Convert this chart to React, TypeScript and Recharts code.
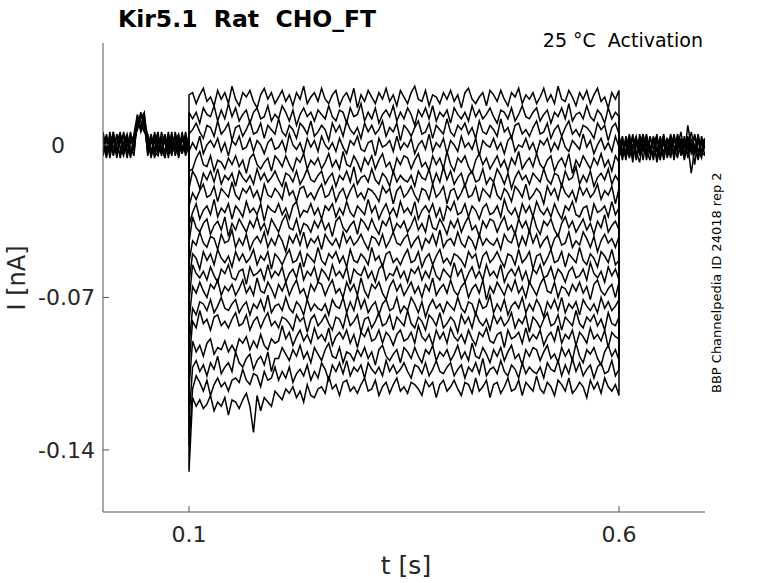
import React from 'react';
import { LineChart, Line, XAxis, YAxis } from 'recharts';

// current values are written in pA, plotted in nA
const STEP_START = 0.1;
const STEP_DT = 0.5 / 120; // 121 samples across the 0.1–0.6 s step
const BASE_DT = 0.004; // 26 samples across each baseline stretch
const PRE_START = 0;
const POST_START = 0.6;

const X_TICKS = [0.1, 0.6];
const Y_TICKS = [0, -0.07, -0.14];

// baseline value of each sweep right before / after the step
const STEP_ON = [1, -2, 0, 2, -1, 3, -3, 1, 0, -2, 2, -1, 1, -3, 0, 2, -2, 1, -1];
const STEP_OFF = [-2, 0, -3, 1, -1, -4, 2, -2, 0, -3, 1, -2, -1, 2, -4, 0, -1, -3, 1];

// the 19 sweeps during the step (first sample is the onset transient)
const SWEEPS: number[][] = [
  [23,
    24, 19, 23, 26, 20, 22, 18, 25, 21, 24, 19, 27,
    21, 18, 24, 22, 25, 20, 17, 23, 26, 21, 24, 19,
    22, 25, 20, 23, 18, 24, 21, 27, 19, 22, 24, 20,
    26, 21, 19, 23, 25, 18, 22, 24, 20, 26, 17, 23,
    20, 25, 22, 19, 24, 21, 26, 20, 23, 18, 25, 22,
    19, 24, 27, 21, 20, 25, 18, 23, 22, 19, 24, 21,
    25, 20, 23, 17, 24, 26, 21, 19, 22, 24, 18, 25,
    23, 20, 25, 21, 18, 24, 22, 26, 19, 23, 21, 24,
    19, 22, 26, 20, 23, 19, 27, 21, 20, 25, 22, 18,
    24, 21, 25, 19, 23, 26, 20, 22, 17, 24, 21, 25],
  [15,
    12, 15, 10, 17, 14, 13, 18, 11, 16, 12, 19, 13,
    17, 11, 14, 16, 10, 15, 17, 12, 13, 18, 11, 14,
    12, 18, 15, 11, 16, 9, 14, 17, 13, 15, 11, 16,
    14, 12, 18, 13, 11, 16, 15, 10, 17, 13, 14, 19,
    11, 15, 12, 17, 10, 14, 16, 13, 18, 11, 15, 12,
    17, 14, 9, 16, 13, 17, 12, 18, 11, 15, 13, 16,
    10, 17, 14, 12, 15, 11, 18, 13, 16, 12, 14, 17,
    13, 10, 16, 15, 12, 17, 11, 14, 18, 13, 12, 15,
    17, 11, 14, 16, 10, 15, 13, 17, 12, 19, 11, 14,
    15, 12, 18, 13, 11, 16, 14, 10, 17, 12, 15, 13],
  [5,
    7, 10, 6, 3, 9, 8, 4, 11, 5, 7, 10, 2,
    8, 9, 4, 7, 11, 5, 6, 10, 3, 9, 7, 5,
    12, 6, 4, 9, 7, 3, 10, 8, 5, 11, 4, 6,
    9, 7, 2, 10, 6, 9, 4, 11, 7, 5, 8, 3,
    10, 6, 9, 5, 7, 11, 4, 8, 6, 10, 2, 9,
    7, 4, 8, 11, 5, 6, 10, 3, 9, 7, 5, 12,
    6, 4, 9, 7, 10, 5, 8, 3, 11, 6, 5, 9,
    7, 4, 12, 6, 8, 3, 9, 10, 5, 7, 4, 8,
    11, 5, 6, 10, 3, 7, 9, 4, 8, 11, 5, 7,
    4, 9, 8, 6, 3, 10, 7, 9, 2, 8, 10, 5],
  [-3,
    1, -2, 4, -4, 0, 2, -1, 3, -3, 1, -5, 2,
    0, 4, -2, -1, 3, -3, 2, 0, -4, 1, 3, -2,
    -1, 2, -3, 5, 0, -2, 1, -4, 3, -1, 2, -3,
    4, 0, -2, 1, -3, 3, -1, -4, 2, 0, 4, -2,
    -3, 1, 2, -5, 3, -1, 0, 2, -3, 4, -2, 1,
    -1, 3, -4, 0, 2, -2, 5, -3, 1, -1, 3, -4,
    2, 0, -3, 4, -1, 1, -2, 3, -5, 2, 0, -1,
    3, -2, 1, -4, 2, 4, -3, 0, -1, 3, -2, 1,
    -4, 2, 0, 3, -3, 1, -2, 4, -1, -3, 2, 0,
    -2, 5, -1, 2, -4, 0, 3, -2, 1, -3, 4, -1],
  [-12,
    -11, -6, -3, -9, -10, -5, -12, -7, -8, -11, -6, -9,
    -5, -10, -7, -13, -6, -4, -9, -11, -8, -6, -12, -5,
    -7, -10, -5, -9, -12, -6, -8, -4, -11, -7, -9, -6,
    -11, -8, -4, -10, -7, -11, -3, -9, -10, -5, -8, -12,
    -6, -9, -5, -11, -7, -4, -10, -8, -13, -6, -9, -5,
    -6, -11, -7, -4, -10, -8, -12, -5, -9, -6, -11, -3,
    -9, -12, -6, -8, -5, -10, -13, -7, -4, -9, -6, -11,
    -8, -5, -10, -7, -12, -6, -9, -3, -11, -8, -6, -10,
    -4, -9, -11, -7, -5, -12, -8, -6, -10, -4, -13, -7,
    -10, -5, -8, -11, -6, -9, -4, -10, -7, -12, -5, -8],
  [-20,
    -12, -15, -20, -13, -16, -12, -17, -11, -18, -14, -16, -13,
    -19, -12, -15, -17, -14, -18, -11, -16, -13, -17, -15, -12,
    -16, -19, -13, -14, -17, -12, -18, -15, -11, -16, -17, -14,
    -12, -18, -15, -13, -19, -14, -16, -12, -17, -10, -18, -15,
    -14, -17, -11, -16, -18, -13, -15, -19, -12, -17, -14, -16,
    -17, -14, -19, -12, -15, -16, -11, -18, -13, -17, -10, -16,
    -12, -18, -15, -13, -19, -14, -12, -17, -16, -11, -18, -15,
    -17, -11, -14, -18, -13, -20, -15, -12, -16, -14, -18, -13,
    -15, -17, -11, -16, -18, -13, -14, -19, -12, -16, -15, -10,
    -18, -14, -17, -12, -19, -15, -13, -16, -11, -18, -14, -17],
  [-28,
    -22, -25, -21, -18, -24, -23, -19, -26, -20, -22, -24, -17,
    -23, -25, -20, -22, -19, -24, -21, -26, -18, -23, -24, -20,
    -22, -25, -17, -23, -21, -26, -20, -19, -24, -22, -25, -21,
    -18, -24, -23, -19, -26, -22, -20, -25, -21, -18, -24, -22,
    -25, -20, -21, -23, -26, -19, -22, -20, -27, -21, -19, -24,
    -22, -19, -23, -26, -20, -21, -25, -18, -24, -22, -19, -27,
    -21, -20, -25, -22, -18, -24, -23, -19, -26, -20, -22, -24,
    -17, -23, -25, -20, -22, -26, -19, -21, -24, -18, -25, -23,
    -20, -22, -27, -19, -23, -20, -25, -18, -22, -24, -21, -26,
    -19, -23, -20, -24, -22, -18, -25, -21, -23, -19, -27, -20],
  [-37,
    -31, -27, -34, -30, -28, -32, -25, -33, -29, -31, -27, -34,
    -28, -30, -33, -26, -31, -29, -32, -27, -35, -28, -30, -31,
    -27, -32, -29, -34, -28, -26, -33, -30, -31, -27, -32, -29,
    -34, -28, -30, -27, -33, -29, -32, -26, -31, -33, -28, -30,
    -32, -25, -31, -28, -34, -30, -27, -32, -29, -33, -26, -31,
    -29, -32, -26, -34, -30, -28, -31, -27, -33, -29, -35, -28,
    -30, -26, -32, -31, -27, -33, -28, -30, -34, -29, -27, -32,
    -31, -28, -33, -25, -30, -32, -29, -34, -27, -31, -28, -33,
    -26, -30, -32, -29, -33, -27, -31, -34, -28, -30, -26, -32,
    -33, -29, -28, -35, -27, -31, -30, -28, -33, -26, -32, -29],
  [-45,
    -33, -38, -40, -36, -34, -41, -37, -35, -39, -33, -42, -36,
    -39, -34, -37, -40, -35, -38, -33, -39, -36, -41, -34, -37,
    -40, -35, -32, -38, -39, -34, -41, -36, -37, -40, -35, -38,
    -34, -39, -36, -42, -35, -33, -38, -40, -37, -35, -41, -34,
    -36, -39, -34, -38, -41, -35, -37, -33, -40, -36, -38, -35,
    -40, -37, -33, -39, -36, -40, -32, -38, -39, -34, -37, -41,
    -35, -38, -34, -40, -36, -33, -39, -37, -42, -35, -38, -34,
    -35, -40, -36, -33, -39, -37, -41, -34, -38, -35, -40, -32,
    -38, -41, -35, -37, -34, -39, -42, -36, -33, -38, -35, -40,
    -37, -34, -39, -36, -41, -35, -38, -32, -40, -37, -35, -39],
  [-54,
    -44, -46, -40, -45, -47, -42, -43, -48, -41, -45, -44, -39,
    -47, -43, -46, -41, -48, -44, -42, -45, -40, -47, -43, -46,
    -41, -44, -49, -42, -45, -41, -46, -40, -47, -43, -45, -42,
    -48, -41, -44, -46, -43, -47, -40, -45, -42, -46, -44, -41,
    -45, -48, -42, -43, -46, -41, -47, -44, -40, -45, -46, -43,
    -41, -47, -44, -42, -48, -43, -45, -41, -46, -39, -47, -44,
    -43, -46, -40, -45, -47, -42, -44, -48, -41, -46, -43, -45,
    -46, -43, -48, -41, -44, -45, -40, -47, -42, -46, -39, -45,
    -41, -47, -44, -42, -48, -43, -41, -46, -45, -40, -47, -44,
    -46, -40, -43, -47, -42, -49, -44, -41, -45, -43, -47, -42],
  [-63,
    -50, -52, -57, -49, -53, -50, -55, -48, -52, -54, -51, -56,
    -49, -53, -50, -54, -52, -48, -55, -51, -53, -49, -57, -50,
    -52, -55, -51, -48, -54, -53, -49, -56, -50, -52, -54, -47,
    -53, -55, -50, -52, -49, -54, -51, -56, -48, -53, -54, -50,
    -52, -55, -47, -53, -51, -56, -50, -49, -54, -52, -55, -51,
    -48, -54, -53, -49, -56, -52, -50, -55, -51, -48, -54, -52,
    -55, -50, -51, -53, -56, -49, -52, -50, -57, -51, -49, -54,
    -52, -49, -53, -56, -50, -51, -55, -48, -54, -52, -49, -57,
    -51, -50, -55, -52, -48, -54, -53, -49, -56, -50, -52, -54,
    -47, -53, -55, -50, -52, -56, -49, -51, -54, -48, -55, -53],
  [-72,
    -55, -59, -61, -58, -62, -56, -60, -63, -57, -59, -55, -61,
    -62, -58, -57, -64, -56, -60, -59, -57, -62, -55, -61, -58,
    -60, -56, -63, -59, -57, -61, -54, -62, -58, -60, -56, -63,
    -57, -59, -62, -55, -60, -58, -61, -56, -64, -57, -59, -60,
    -56, -61, -58, -63, -57, -55, -62, -59, -60, -56, -61, -58,
    -63, -57, -59, -56, -62, -58, -61, -55, -60, -62, -57, -59,
    -61, -54, -60, -57, -63, -59, -56, -61, -58, -62, -55, -60,
    -58, -61, -55, -63, -59, -57, -60, -56, -62, -58, -64, -57,
    -59, -55, -61, -60, -56, -62, -57, -59, -63, -58, -56, -61,
    -60, -57, -62, -54, -59, -61, -58, -63, -56, -60, -57, -62],
  [-81,
    -65, -68, -63, -67, -70, -64, -66, -62, -69, -65, -67, -64,
    -69, -66, -62, -68, -65, -69, -61, -67, -68, -63, -66, -70,
    -64, -67, -63, -69, -65, -62, -68, -66, -71, -64, -67, -63,
    -64, -69, -65, -62, -68, -66, -70, -63, -67, -64, -69, -61,
    -67, -70, -64, -66, -63, -68, -71, -65, -62, -67, -64, -69,
    -66, -63, -68, -65, -70, -64, -67, -61, -69, -66, -64, -68,
    -62, -67, -69, -65, -63, -70, -66, -64, -68, -62, -71, -65,
    -68, -63, -66, -69, -64, -67, -62, -68, -65, -70, -63, -66,
    -69, -64, -61, -67, -68, -63, -70, -65, -66, -69, -64, -67,
    -63, -68, -65, -71, -64, -62, -67, -69, -66, -64, -70, -63],
  [-92,
    -75, -78, -72, -73, -76, -71, -77, -74, -70, -75, -76, -73,
    -71, -77, -74, -72, -78, -73, -75, -71, -76, -69, -77, -74,
    -73, -76, -70, -75, -77, -72, -74, -78, -71, -76, -73, -75,
    -76, -73, -78, -71, -74, -75, -70, -77, -72, -76, -69, -75,
    -71, -77, -74, -72, -78, -73, -71, -76, -75, -70, -77, -74,
    -76, -70, -73, -77, -72, -79, -74, -71, -75, -73, -77, -72,
    -74, -76, -70, -75, -77, -72, -73, -78, -71, -75, -74, -69,
    -77, -73, -76, -71, -78, -74, -72, -75, -70, -77, -73, -76,
    -71, -74, -79, -72, -75, -71, -76, -70, -77, -73, -75, -72,
    -78, -71, -74, -76, -73, -77, -70, -75, -72, -76, -74, -71],
  [-101,
    -81, -84, -76, -82, -80, -85, -79, -78, -83, -81, -84, -80,
    -77, -83, -82, -78, -85, -81, -79, -84, -80, -77, -83, -81,
    -84, -79, -80, -82, -85, -78, -81, -79, -86, -80, -78, -83,
    -81, -78, -82, -85, -79, -80, -84, -77, -83, -81, -78, -86,
    -80, -79, -84, -81, -77, -83, -82, -78, -85, -79, -81, -83,
    -76, -82, -84, -79, -81, -85, -78, -80, -83, -77, -84, -82,
    -79, -81, -86, -78, -82, -79, -84, -77, -81, -83, -80, -85,
    -78, -82, -79, -83, -81, -77, -84, -80, -82, -78, -86, -79,
    -81, -84, -80, -77, -83, -82, -78, -85, -79, -81, -83, -76,
    -82, -84, -79, -81, -78, -83, -80, -85, -77, -82, -83, -79],
  [-112,
    -90, -95, -92, -97, -91, -89, -96, -93, -94, -90, -95, -92,
    -95, -89, -91, -88, -94, -90, -93, -87, -92, -94, -89, -91,
    -90, -83, -89, -86, -92, -88, -85, -90, -87, -91, -84, -89,
    -87, -90, -84, -92, -88, -86, -89, -85, -91, -87, -93, -86,
    -88, -84, -90, -89, -85, -91, -86, -88, -92, -87, -85, -90,
    -89, -86, -91, -83, -88, -90, -87, -92, -85, -89, -86, -91,
    -84, -88, -90, -87, -91, -85, -89, -92, -86, -88, -84, -90,
    -91, -87, -86, -93, -85, -89, -88, -86, -91, -84, -90, -87,
    -89, -85, -92, -88, -86, -90, -83, -91, -87, -89, -85, -92,
    -86, -88, -91, -84, -89, -87, -90, -85, -93, -86, -88, -89],
  [-126,
    -102, -99, -104, -101, -106, -100, -103, -97, -105, -102, -100, -104,
    -95, -100, -102, -98, -96, -103, -99, -97, -101, -95, -104, -98,
    -98, -93, -96, -99, -94, -97, -92, -98, -95, -100, -93, -96,
    -99, -94, -91, -97, -98, -93, -100, -95, -96, -99, -94, -97,
    -93, -98, -95, -101, -94, -92, -97, -99, -96, -94, -100, -93,
    -95, -98, -93, -97, -100, -94, -96, -92, -99, -95, -97, -94,
    -99, -96, -92, -98, -95, -99, -91, -97, -98, -93, -96, -100,
    -94, -97, -93, -99, -95, -92, -98, -96, -101, -94, -97, -93,
    -94, -99, -95, -92, -98, -96, -100, -93, -97, -94, -99, -91,
    -97, -100, -94, -96, -93, -98, -101, -95, -92, -97, -94, -99],
  [-138,
    -112, -106, -109, -113, -108, -115, -110, -107, -111, -109, -113, -108,
    -107, -109, -103, -108, -110, -105, -106, -111, -104, -108, -107, -102,
    -108, -104, -107, -102, -109, -105, -103, -106, -101, -108, -104, -107,
    -100, -103, -108, -101, -104, -100, -105, -99, -106, -102, -104, -101,
    -107, -100, -103, -105, -102, -106, -99, -104, -101, -105, -103, -100,
    -104, -107, -101, -102, -105, -100, -106, -103, -99, -104, -105, -102,
    -100, -106, -103, -101, -107, -102, -104, -100, -105, -98, -106, -103,
    -102, -105, -99, -104, -106, -101, -103, -107, -100, -105, -102, -104,
    -105, -102, -107, -100, -103, -104, -99, -106, -101, -105, -98, -104,
    -100, -106, -103, -101, -107, -102, -100, -105, -104, -99, -106, -103],
  [-150,
    -116, -120, -117, -121, -119, -115, -122, -118, -120, -116, -124, -117,
    -118, -121, -117, -114, -120, -132, -115, -122, -116, -118, -120, -113,
    -115, -117, -112, -114, -111, -116, -113, -118, -110, -115, -116, -112,
    -111, -114, -106, -112, -110, -115, -109, -108, -113, -111, -114, -110,
    -107, -113, -112, -108, -115, -111, -109, -114, -110, -107, -113, -111,
    -114, -109, -110, -112, -115, -108, -111, -109, -116, -110, -108, -113,
    -111, -108, -112, -115, -109, -110, -114, -107, -113, -111, -108, -116,
    -110, -109, -114, -111, -107, -113, -112, -108, -115, -109, -111, -113,
    -106, -112, -114, -109, -111, -115, -108, -110, -113, -107, -114, -112,
    -109, -111, -116, -108, -112, -109, -114, -107, -111, -113, -110, -115],
];

// holding baseline before the step (with the short test pulse near 0.045 s)
const PRE: number[][] = [
  [3, -5, 6, -2, 4, -6, 1, 5, -4, 2, 12, 7, 14, 2, -5, 6, -3, 4, -6, 3, -1, 5, -4, 6, -3, 1],
  [-4, 5, -3, 6, -6, 3, -1, 4, -5, 1, 8, 15, 9, -3, 4, -6, 2, -4, 5, -2, 6, -5, 2, -3, 5, -1],
  [5, -2, 3, -5, 1, 6, -4, 2, -1, -5, 13, 6, 11, 4, -3, 1, 6, -5, 3, -4, 1, 4, -6, 5, -2, 2],
  [-2, 4, -6, 3, -3, 1, 5, -5, 4, 3, 7, 12, 15, -5, 2, -2, 4, -1, -6, 5, -3, 2, 5, -4, 1, -3],
  [1, -6, 4, 2, -4, 5, -2, -1, 6, -3, 11, 9, 6, 3, -6, 4, -4, 6, 1, -2, 4, -1, -5, 3, -1, 3],
  [-5, 2, -1, 5, -2, -4, 6, -3, 1, 4, 9, 14, 10, -1, 5, -3, -5, 2, 4, -6, 3, -2, 1, -4, 6, -2],
  [6, -3, 1, -4, 5, -1, -5, 3, -6, 5, 14, 8, 12, -4, 1, 5, -1, -4, 3, 1, -5, 6, -2, 4, -5, 0],
  [-1, 3, -4, 6, -5, 2, 4, -6, 2, -1, 10, 11, 7, 5, -2, -5, 3, 1, -3, 6, -4, 0, 4, -2, 3, -4],
];

// holding baseline after the step
const POST: number[][] = [
  [-3, 4, -6, 2, -8, 3, -1, 5, -4, 0, -7, 3, -2, 4, -5, 2, -4, 5, -1, -6, 3, -2, 4, -4, 2, -1],
  [2, -7, 3, -4, 4, -3, -8, 2, -5, 4, -1, -6, 3, -7, 2, -3, 5, -4, -1, 3, -5, 1, -9, 3, -4, 0],
  [-5, 1, -3, 5, -4, -1, 3, -7, 2, -4, 4, -8, 0, -3, 3, -6, 2, -1, 6, -4, 0, -13, -2, 2, -5, 3],
  [3, -4, 1, -6, 0, 4, -5, 3, -2, -7, 2, 4, -5, 1, -4, 4, -7, 3, -2, -5, 9, -1, -4, 5, -3, -5],
  [-1, 3, -7, 4, -2, 1, -4, -1, 5, -3, -5, 2, -1, 5, -6, 0, -3, 4, -5, 1, -2, 6, -1, -6, 4, -2],
  [-6, 2, 0, -4, 5, -6, 2, -3, 3, -1, -4, 5, -6, 2, -1, -5, 4, -2, 3, -7, 2, -3, 5, -2, -6, 3],
  [4, -2, -5, 3, -6, 2, -3, 5, -7, 2, 1, -3, 4, -6, 3, 1, -5, 2, -4, 4, -6, 3, -3, 1, 2, -5],
  [-2, -6, 4, -1, 3, -7, 5, -2, 0, -4, 3, -2, -7, 4, -3, 5, -1, -6, 2, -1, 4, -4, 0, -7, 1, 3],
];

const toNA = (pA: number) => pA / 1000;

const sweepData = SWEEPS.map((s, k) => [
  { t: STEP_START, v: toNA(STEP_ON[k]) },
  ...s.map((v, i) => ({ t: STEP_START + i * STEP_DT, v: toNA(v) })),
  { t: STEP_START + (s.length - 1) * STEP_DT, v: toNA(STEP_OFF[k]) },
]);
const preData = PRE.map((s) => s.map((v, i) => ({ t: PRE_START + i * BASE_DT, v: toNA(v) })));
const postData = POST.map((s) => s.map((v, i) => ({ t: POST_START + i * BASE_DT, v: toNA(v) })));

const FONT = 'DejaVu Sans, sans-serif';
const AXIS = '#555';
const TICK_TEXT = '#262626';

function XTick({ x, y, payload }: any) {
  return (
    <g>
      <line x1={x} y1={y} x2={x} y2={y - 6} stroke={AXIS} />
      <text x={x} y={y + 30} textAnchor="middle" fontSize={22} fontFamily={FONT} fill={TICK_TEXT}>
        {payload.value}
      </text>
    </g>
  );
}

function YTick({ x, y, payload }: any) {
  const dx = payload.value === 0 ? -38 : -8;
  return (
    <g>
      <line x1={x} y1={y} x2={x + 6} y2={y} stroke={AXIS} />
      <text x={x + dx} y={y + 8} textAnchor="end" fontSize={22} fontFamily={FONT} fill={TICK_TEXT}>
        {payload.value}
      </text>
    </g>
  );
}

export default function App() {
  const line = (data: any[], key: string) => (
    <Line
      key={key}
      data={data}
      dataKey="v"
      type="linear"
      stroke="#000"
      strokeWidth={1.5}
      dot={false}
      activeDot={false}
      isAnimationActive={false}
    />
  );

  return (
    <div style={{ position: 'absolute', left: 0, top: 0, width: 778, height: 583, background: '#fff' }}>
      <LineChart width={778} height={583} margin={{ top: 43, right: 73, bottom: 41, left: 43 }}>
        <XAxis
          dataKey="t"
          type="number"
          domain={[0, 0.7]}
          ticks={X_TICKS}
          allowDataOverflow
          height={30}
          tickSize={0}
          tickMargin={0}
          tickLine={false}
          stroke={AXIS}
          tick={<XTick />}
        />
        <YAxis
          type="number"
          domain={[-0.1685, 0.0468]}
          ticks={Y_TICKS}
          allowDataOverflow
          width={60}
          tickSize={0}
          tickMargin={0}
          tickLine={false}
          stroke={AXIS}
          tick={<YTick />}
        />
        {preData.map((d, i) => line(d, 'pre' + i))}
        {postData.map((d, i) => line(d, 'post' + i))}
        {sweepData.map((d, i) => line(d, 'sweep' + i))}
      </LineChart>
      <svg
        width={778}
        height={583}
        style={{ position: 'absolute', left: 0, top: 0, pointerEvents: 'none' }}
        fontFamily={FONT}
      >
        <text x={118} y={27} fontSize={23.5} fontWeight="bold" fill="#000" xmlSpace="preserve" style={{ whiteSpace: 'pre' }}>
          {'Kir5.1  Rat  CHO_FT'}
        </text>
        <text x={703} y={47} fontSize={19} textAnchor="end" fill="#000" xmlSpace="preserve" style={{ whiteSpace: 'pre' }}>
          {'25 °C  Activation'}
        </text>
        <text transform="translate(721,393) rotate(-90)" fontSize={13} fill="#000">
          BBP Channelpedia ID 24018 rep 2
        </text>
        <text transform="translate(25,278) rotate(-90)" fontSize={24} textAnchor="middle" fill={TICK_TEXT}>
          I [nA]
        </text>
        <text x={406} y={574} fontSize={25} textAnchor="middle" fill={TICK_TEXT}>
          t [s]
        </text>
      </svg>
    </div>
  );
}
